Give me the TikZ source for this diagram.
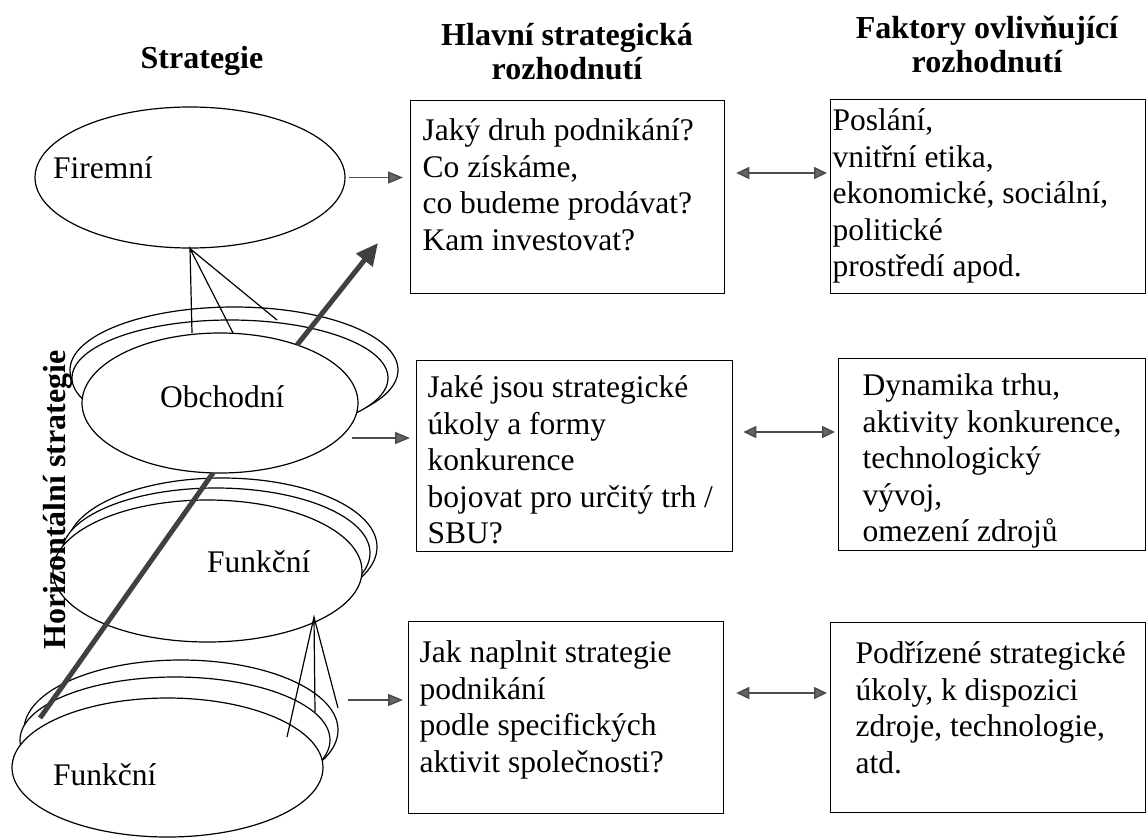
\documentclass[tikz,border=0pt]{standalone}
\usepackage{fontspec}
\setmainfont{Liberation Serif}
\usepackage{tikz}
\usetikzlibrary{shapes.geometric, arrows.meta, positioning}

\newcommand{\bodysize}{\fontsize{31.5}{36.5}\selectfont}
% width, height, indent, text
\newcommand{\boxtxt}[4]{\parbox[t][#2][t]{#1}{\raggedright\leftskip=#3\strut #4}}

\begin{document}
\begin{tikzpicture}[x=1pt, y=-1pt,
    ell/.style={draw, ellipse, fill=white, line width=1.2pt, inner sep=0pt},
    lbl/.style={font=\bodysize, inner sep=0pt},
    hdr/.style={font={\bfseries\fontsize{32}{34}\selectfont}, align=center, inner sep=0pt},
    box/.style={draw, line width=1.3pt, anchor=north west, inner xsep=2pt, font=\bodysize},
    link/.style={line width=1.2pt},
    arr/.style={line width=1.6pt, black!70, -{Triangle[length=15pt, width=12pt, fill=gray!80!black]}},
    darr/.style={line width=1.6pt, black!70, {Triangle[length=13pt, width=12pt, fill=gray!80!black]}-{Triangle[length=13pt, width=12pt, fill=gray!80!black]}},
    bar/.style={line width=5pt, gray!50!black},
]
\useasboundingbox (0,0) rectangle (1147,838);

% Headings
\node[hdr, anchor=base] (hstrat) at (202,68) {Strategie};
\node[hdr, anchor=north] (hdec) at (567,23) {Hlavní strategická\\rozhodnutí};
\node[hdr, anchor=north] (hfact) at (987,16) {Faktory ovlivňující\\rozhodnutí};

% Strategy levels
\node[ell, minimum width=310, minimum height=141] (firm) at (190,177.5) {};
\node[lbl, anchor=base west] (firmtxt) at (53,178) {Firemní};

\node[ell, minimum width=328, minimum height=126] (obch3) at (234,370) {};
\node[ell, minimum width=316, minimum height=116] (obch2) at (230,378) {};
\node[ell, minimum width=276, minimum height=140] (obch) at (220,403) {};
\node[lbl, anchor=base west] (obchtxt) at (160,407) {Obchodní};

\node[ell, minimum width=310, minimum height=138] (funk3) at (222,547) {};
\node[ell, minimum width=308, minimum height=130] (funk2) at (216,553) {};
\node[ell, minimum width=309, minimum height=142] (funk) at (207.5,571) {};
\node[lbl, anchor=base west] (funktxt) at (207,572) {Funkční};

\node[ell, minimum width=314, minimum height=140] (fnb3) at (181,730) {};
\node[ell, minimum width=310, minimum height=126] (fnb2) at (175,740) {};
\node[ell, minimum width=311, minimum height=139] (fnb) at (167.5,767.5) {};
\node[lbl, anchor=base west] (fnbtxt) at (53,785) {Funkční};

\node[hdr, rotate=90] (horiz) at (58,500) {Horizontální strategie};

% Decisions
\node[box, inner ysep=14.5pt] (box1) at (410,100)
    {\boxtxt{310pt}{164pt}{10pt}{Jaký druh podnikání?\\Co získáme,\\co budeme prodávat?\\Kam investovat?}};
\node[box, inner ysep=11.5pt] (box2) at (416,360)
    {\boxtxt{312pt}{168pt}{9pt}{Jaké jsou strategické\\úkoly a formy\\konkurence\\bojovat pro určitý trh /\\SBU?}};
\node[box, inner ysep=15.5pt] (box3) at (408,621)
    {\boxtxt{311pt}{161pt}{9pt}{Jak naplnit strategie\\podnikání\\podle specifických\\aktivit společnosti?}};

% Factors
\node[box, inner ysep=5.5pt] (box4) at (830,99)
    {\boxtxt{311pt}{183pt}{0pt}{Poslání,\\vnitřní etika,\\ekonomické, sociální,\\politické\\prostředí apod.}};
\node[box, inner ysep=11.5pt] (box5) at (838,358)
    {\boxtxt{303pt}{169pt}{22pt}{Dynamika trhu,\\aktivity konkurence,\\technologický\\vývoj,\\omezení zdrojů}};
\node[box, inner ysep=15.5pt] (box6) at (830,622)
    {\boxtxt{311pt}{159pt}{23pt}{Podřízené strategické\\úkoly, k dispozici\\zdroje, technologie,\\atd.}};

% Links between levels
\coordinate (o1) at (192,333);
\coordinate (o2) at (233,333);
\coordinate (o3) at (277,320);
\draw[link] (o1) -- (firm.south) -- (o2) (firm.south) -- (o3);

\coordinate (fapex) at (314,617);
\coordinate (u1) at (287,737);
\coordinate (u2) at (315,712);
\coordinate (u3) at (338,708);
\draw[link] (u1) -- (fapex) -- (u3) (fapex) -- (u2);

% Arrows to the boxes
\coordinate (obchout) at (352,438);
\coordinate (fnbout) at (348,700);
\draw[arr, shorten >=7pt] ([xshift=3pt]firm.east) -- (box1.west |- firm.east);
\draw[arr, shorten >=6pt] (obchout) -- (obchout -| box2.west);
\draw[arr, shorten >=5pt] (fnbout) -- (fnbout -| box3.west);

\draw[darr, shorten <=11pt, shorten >=3pt] (box1.east |- 0,173) -- (box4.west |- 0,173);
\draw[darr, shorten <=10pt, shorten >=3pt] (box2.east |- 0,432) -- (box5.west |- 0,432);
\draw[darr, shorten <=12pt, shorten >=3pt] (box3.east |- 0,693) -- (box6.west |- 0,693);

% Thick bars
\coordinate (s1) at (297,345);
\coordinate (s2) at (378,243);
\draw[bar, -{Triangle[length=22pt, width=20pt]}] (s1) -- (s2);
\coordinate (b1) at (213,473);
\coordinate (b2) at (40,718);
\draw[bar] (b1) -- (b2);

\end{tikzpicture}
\end{document}
